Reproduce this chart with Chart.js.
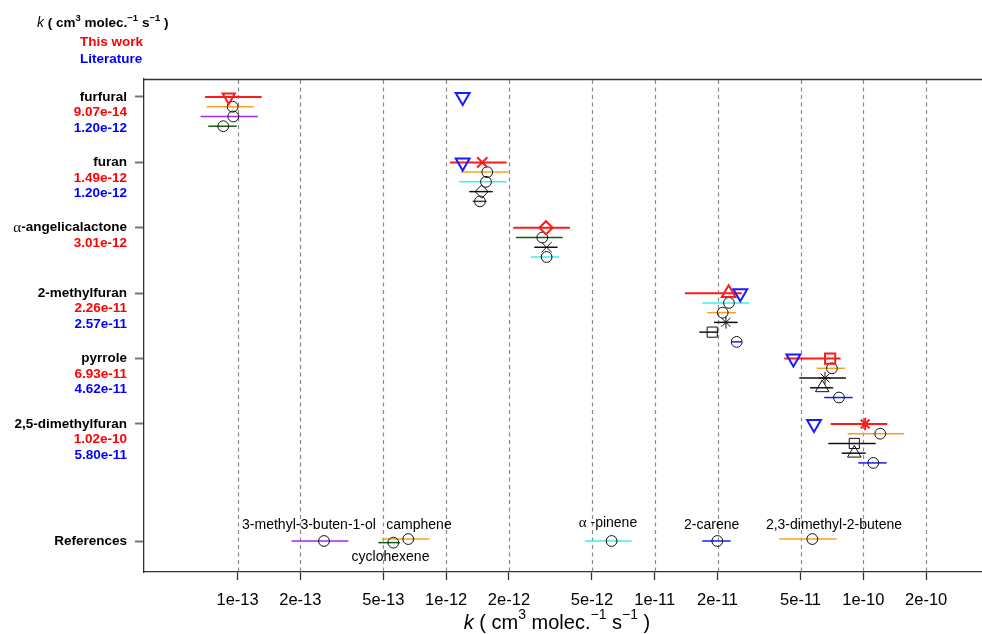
<!DOCTYPE html>
<html><head><meta charset="utf-8">
<script src="https://cdn.jsdelivr.net/npm/chart.js@4"></script>
<style>html,body{margin:0;padding:0;background:#fff}canvas{display:block}</style>
</head><body>
<canvas id="c" width="982" height="634"></canvas>
<script>
// ================= DATA =================
const compounds = ['furfural','furan','α-angelicalactone','2-methylfuran','pyrrole','2,5-dimethylfuran'];
const thisWorkLabels   = ['9.07e-14','1.49e-12','3.01e-12','2.26e-11','6.93e-11','1.02e-10'];
const literatureLabels = ['1.20e-12','1.20e-12','','2.57e-11','4.62e-11','5.80e-11'];
const literatureK      = [1.20e-12, 1.20e-12, null, 2.57e-11, 4.62e-11, 5.80e-11];

// per compound: k estimate, lower and upper bound (first entry = this work)
const furfuralK  = [9.07e-14, 9.47e-14, 9.54e-14, 8.54e-14];
const furfuralLo = [6.98e-14, 7.11e-14, 6.65e-14, 7.24e-14];
const furfuralHi = [1.305e-13, 1.195e-13, 1.25e-13, 9.9e-14];

const furanK  = [1.49e-12, 1.574e-12, 1.552e-12, 1.48e-12, 1.452e-12];
const furanLo = [1.043e-12, 1.178e-12, 1.156e-12, 1.29e-12, 1.34e-12];
const furanHi = [1.95e-12, 1.985e-12, 1.95e-12, 1.671e-12, 1.563e-12];

const angelicaK  = [3.01e-12, 2.89e-12, 3.03e-12, 3.03e-12];
const angelicaLo = [2.097e-12, 2.16e-12, 2.645e-12, 2.55e-12];
const angelicaHi = [3.92e-12, 3.62e-12, 3.42e-12, 3.48e-12];

const methylfuranK  = [2.26e-11, 2.268e-11, 2.116e-11, 2.194e-11, 1.886e-11, 2.47e-11];
const methylfuranLo = [1.396e-11, 1.69e-11, 1.785e-11, 1.922e-11, 1.634e-11, 2.344e-11];
const methylfuranHi = [2.61e-11, 2.84e-11, 2.45e-11, 2.497e-11, 2.016e-11, 2.61e-11];

const pyrroleK  = [6.93e-11, 7.07e-11, 6.55e-11, 6.35e-11, 7.64e-11];
const pyrroleLo = [4.18e-11, 5.97e-11, 4.93e-11, 5.55e-11, 6.49e-11];
const pyrroleHi = [7.78e-11, 8.16e-11, 8.25e-11, 7.17e-11, 8.89e-11];

const dmfK  = [1.02e-10, 1.205e-10, 9.05e-11, 9.05e-11, 1.116e-10];
const dmfLo = [6.97e-11, 8.41e-11, 6.79e-11, 7.87e-11, 9.45e-11];
const dmfHi = [1.302e-10, 1.57e-10, 1.146e-10, 1.026e-10, 1.293e-10];

const refNames = ['3-methyl-3-buten-1-ol','camphene','cyclohexene','α -pinene','2-carene','2,3-dimethyl-2-butene'];
const refK  = [2.596e-13, 6.58e-13, 5.58e-13, 6.21e-12, 1.994e-11, 5.69e-11];
const refLo = [1.816e-13, 4.91e-13, 4.73e-13, 4.63e-12, 1.69e-11, 3.95e-11];
const refHi = [3.395e-13, 8.30e-13, 6.00e-13, 7.75e-12, 2.31e-11, 7.45e-11];

const xTicks      = [1e-13, 2e-13, 5e-13, 1e-12, 2e-12, 5e-12, 1e-11, 2e-11, 5e-11, 1e-10, 2e-10];
const xTickLabels = ['1e-13','2e-13','5e-13','1e-12','2e-12','5e-12','1e-11','2e-11','5e-11','1e-10','2e-10'];

// ================= STYLE / LAYOUT =================
const RED='#ff1a1a', ORANGE='#f4a224', PURPLE='#a128ee', GREEN='#0f5f0f', CYAN='#40eeee', BLUE='#1a1aff', BLACK='#111111';
const FONT = "'Liberation Sans', Arial, sans-serif";

const furfuralBar = [RED, ORANGE, PURPLE, GREEN],        furfuralMark = ['triangleDown','circle','circle','circle'];
const furanBar    = [RED, ORANGE, CYAN, BLACK, GREEN],   furanMark    = ['crossRot','circle','circle','rectRot','circle'];
const angelicaBar = [RED, GREEN, BLACK, CYAN],           angelicaMark = ['rectRot','circle','crossRot','circle'];
const methylfuranBar = [RED, CYAN, ORANGE, BLACK, BLACK, BLUE], methylfuranMark = ['triangle','circle','circle','star','rect','circle'];
const pyrroleBar  = [RED, ORANGE, BLACK, BLACK, BLUE],   pyrroleMark  = ['rect','circle','star','triangle','circle'];
const dmfBar      = [RED, ORANGE, BLACK, BLACK, BLUE],   dmfMark      = ['star','circle','rect','triangle','circle'];

const refBar = [PURPLE, ORANGE, GREEN, CYAN, BLUE, ORANGE];
const refDy  = [0, -0.03, 0.025, 0, 0, -0.03];
const refLabelK  = [2.2e-13, 7.41e-13, 5.41e-13, 5.965e-12, 1.874e-11, 7.23e-11];
const refLabelDy = [-16, -16, 16, -18, -16, -16];

const markerSpec = {
  circle:       {style:'circle',   r:5.4, rot:0},
  triangleDown: {style:'triangle', r:7,   rot:180},
  triangle:     {style:'triangle', r:7.8, rot:0},
  crossRot:     {style:'crossRot', r:7.3, rot:0},
  rectRot:      {style:'rectRot',  r:6.6, rot:0},
  rect:         {style:'rect',     r:7.2, rot:0},
  star:         {style:'star',     r:6.2, rot:0}
};

const SLOT = 0.149;
const REF_ROW = 7.79;
const yTicks = [1,2,3,4,5,6,REF_ROW];

const groups = [
  [furfuralK, furfuralLo, furfuralHi, furfuralBar, furfuralMark],
  [furanK, furanLo, furanHi, furanBar, furanMark],
  [angelicaK, angelicaLo, angelicaHi, angelicaBar, angelicaMark],
  [methylfuranK, methylfuranLo, methylfuranHi, methylfuranBar, methylfuranMark],
  [pyrroleK, pyrroleLo, pyrroleHi, pyrroleBar, pyrroleMark],
  [dmfK, dmfLo, dmfHi, dmfBar, dmfMark]
];

const datasets = [];
function addBar(lo, hi, y, color, w){
  datasets.push({data:[{x:lo,y:y},{x:hi,y:y}], showLine:true, borderColor:color, borderWidth:w,
    pointRadius:0, pointHoverRadius:0, fill:false, tension:0, order:2});
}
function addMark(k, y, spec, color, w){
  datasets.push({data:[{x:k,y:y}], showLine:false, pointStyle:spec.style, pointRadius:spec.r, pointHoverRadius:spec.r,
    pointRotation:spec.rot, pointBorderColor:color, pointBackgroundColor:'rgba(0,0,0,0)', pointBorderWidth:w, order:1});
}
groups.forEach((g, i) => {
  const [ks, los, his, bars, marks] = g;
  ks.forEach((kv, j) => {
    const y = i + 1 + j*SLOT;
    addBar(los[j], his[j], y, bars[j], j===0 ? 2 : 1.5);
    const spec = markerSpec[marks[j]];
    addMark(kv, y, spec, j===0 ? RED : BLACK, j===0 ? 2 : 1);
  });
  if (literatureK[i] != null) addMark(literatureK[i], i + 1, {style:'triangle', r:8, rot:180}, BLUE, 2);
});
refK.forEach((kv, j) => {
  const y = REF_ROW + refDy[j];
  addBar(refLo[j], refHi[j], y, refBar[j], 1.5);
  addMark(kv, y, markerSpec.circle, BLACK, 1);
});

// ================= DRAWING HELPERS =================
function drawRich(ctx, x, y, parts, align){
  let total = 0;
  parts.forEach(p => { ctx.font = p.font; p.w = ctx.measureText(p.t).width; total += p.w; });
  let cx = align === 'center' ? x - total/2 : (align === 'right' ? x - total : x);
  ctx.textBaseline = 'middle'; ctx.textAlign = 'left';
  parts.forEach(p => { ctx.font = p.font; ctx.fillStyle = p.color || '#000'; ctx.fillText(p.t, cx, y - (p.up || 0)); cx += p.w; });
}

const decor = {
  id: 'decor',
  beforeDatasetsDraw(chart){
    const ctx = chart.ctx, a = chart.chartArea, xs = chart.scales.x;
    ctx.save();
    ctx.strokeStyle = '#8a8a8a'; ctx.lineWidth = 1.2; ctx.setLineDash([4,3.5]);
    xTicks.forEach(v => {
      const px = Math.round(xs.getPixelForValue(v)) + 0.5;
      ctx.beginPath(); ctx.moveTo(px, a.top + 1); ctx.lineTo(px, a.bottom); ctx.stroke();
    });
    ctx.setLineDash([]);
    ctx.strokeStyle = '#333'; ctx.lineWidth = 1.3;
    ctx.beginPath(); ctx.moveTo(a.left, a.top + 0.5); ctx.lineTo(chart.width, a.top + 0.5); ctx.stroke();
    ctx.restore();
  },
  afterDraw(chart){
    const ctx = chart.ctx, ys = chart.scales.y, xs = chart.scales.x;
    ctx.save();
    const LX = 127;
    const boldB = 'bold 13.5px ' + FONT;
    ctx.textBaseline = 'middle';
    compounds.forEach((name, i) => {
      const py = ys.getPixelForValue(i + 1);
      ctx.textAlign = 'right';
      if (name.startsWith('α')) {
        ctx.font = boldB; ctx.fillStyle = '#000';
        const rest = name.slice(1);
        const w = ctx.measureText(rest).width;
        ctx.fillText(rest, LX, py);
        ctx.font = "15px 'Liberation Serif', serif";
        ctx.fillText('α', LX - w, py);
      } else {
        ctx.font = boldB; ctx.fillStyle = '#000';
        ctx.fillText(name, LX, py);
      }
      ctx.font = boldB;
      ctx.fillStyle = '#ff0000'; ctx.fillText(thisWorkLabels[i], LX, py + 15.5);
      if (literatureLabels[i]) { ctx.fillStyle = '#0000ff'; ctx.fillText(literatureLabels[i], LX, py + 31); }
    });
    ctx.font = boldB; ctx.fillStyle = '#000'; ctx.textAlign = 'right';
    ctx.fillText('References', LX, ys.getPixelForValue(REF_ROW));

    // reference labels
    refNames.forEach((n, j) => {
      const px = xs.getPixelForValue(refLabelK[j]);
      const py = ys.getPixelForValue(REF_ROW) + refLabelDy[j];
      if (n.startsWith('α')) {
        drawRich(ctx, px, py, [
          {t:'α', font:"15px 'Liberation Serif', serif"},
          {t:n.slice(1), font:'14px ' + FONT}], 'center');
      } else {
        ctx.font = '14px ' + FONT; ctx.fillStyle = '#000'; ctx.textAlign = 'center'; ctx.textBaseline = 'middle';
        ctx.fillText(n, px, py);
      }
    });

    // header
    const hb = 'bold 13.5px ' + FONT, hs = 'bold 9.5px ' + FONT;
    drawRich(ctx, 37, 23, [
      {t:'k', font:'italic 14px ' + FONT},
      {t:' ( cm', font:hb}, {t:'3', font:hs, up:5},
      {t:' molec.', font:hb}, {t:'−1', font:hs, up:5},
      {t:' s', font:hb}, {t:'−1', font:hs, up:5},
      {t:' )', font:hb}], 'left');
    ctx.textAlign = 'left'; ctx.textBaseline = 'middle'; ctx.font = boldB;
    ctx.fillStyle = '#ff0000'; ctx.fillText('This work', 80, 42.5);
    ctx.fillStyle = '#0000ff'; ctx.fillText('Literature', 80, 59);

    // x-axis title
    const tf = '20px ' + FONT, ts = '14px ' + FONT;
    drawRich(ctx, 557, 623, [
      {t:'k', font:'italic 20px ' + FONT},
      {t:' ( cm', font:tf}, {t:'3', font:ts, up:8},
      {t:' molec.', font:tf}, {t:'−1', font:ts, up:8},
      {t:' s', font:tf}, {t:'−1', font:ts, up:8},
      {t:' )', font:tf}], 'center');
    ctx.restore();
  }
};

// ================= CHART =================
new Chart(document.getElementById('c'), {
  type: 'scatter',
  data: { datasets },
  options: {
    responsive: false, animation: false, devicePixelRatio: 1,
    layout: { autoPadding: false, padding: { left: 0, right: 0, top: 79, bottom: 0 } },
    plugins: { legend: { display: false }, tooltip: { enabled: false } },
    events: [],
    scales: {
      x: {
        type: 'logarithmic', position: 'bottom',
        min: 3.56e-14, max: 3.705e-10,
        afterBuildTicks: s => { s.ticks = xTicks.map(v => ({ value: v })); },
        afterFit: s => { s.height = 62; s.paddingLeft = 0; s.paddingRight = 0; },
        ticks: { autoSkip: false, maxRotation: 0, padding: 11, color: '#000',
                 font: { size: 16.5, family: FONT },
                 callback: (v, i) => xTickLabels[i] },
        grid: { display: true, drawOnChartArea: false, drawTicks: true, tickLength: 8, tickColor: '#333', tickWidth: 1.3 },
        border: { display: true, color: '#333', width: 1.3 }
      },
      y: {
        type: 'linear', reverse: true, min: 0.725, max: 8.264,
        afterBuildTicks: s => { s.ticks = yTicks.map(v => ({ value: v })); },
        afterFit: s => { s.width = 144; s.paddingTop = 0; s.paddingBottom = 0; },
        ticks: { autoSkip: false, callback: () => '' },
        grid: { display: true, drawOnChartArea: false, drawTicks: true, tickLength: 9, tickColor: '#777', tickWidth: 2 },
        border: { display: true, color: '#333', width: 1.3 }
      }
    }
  },
  plugins: [decor]
});
</script>
</body></html>
